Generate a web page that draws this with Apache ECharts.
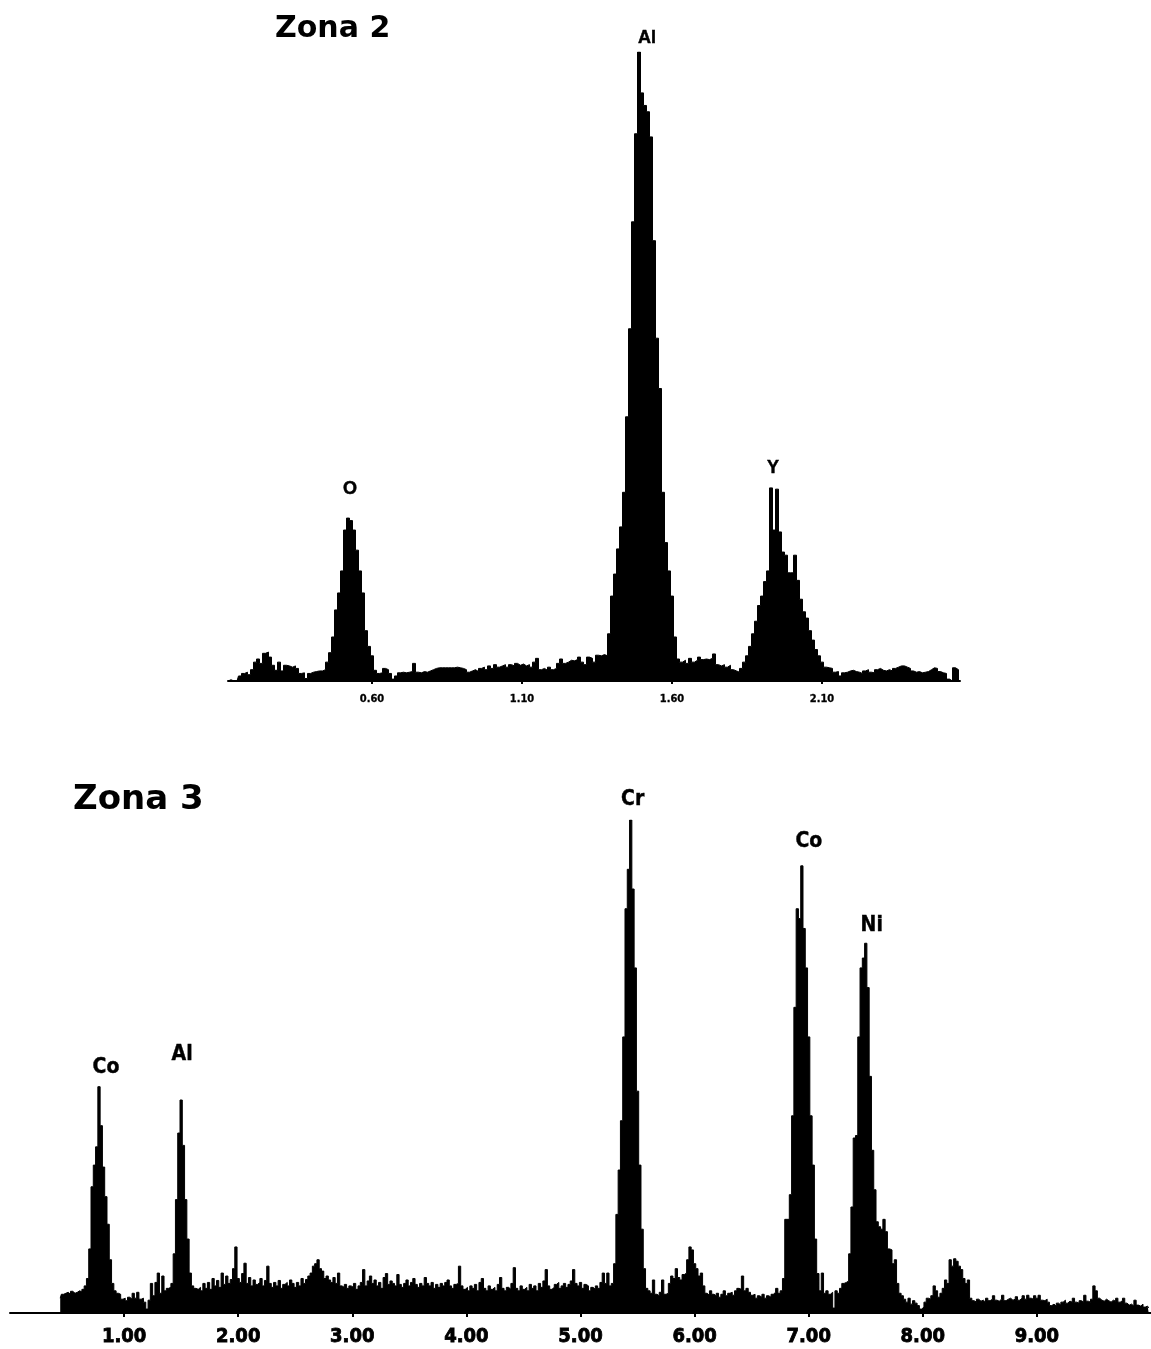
<!DOCTYPE html>
<html>
<head>
<meta charset="utf-8">
<title>Espectros EDS - Zona 2 y Zona 3</title>
<script src="https://cdn.jsdelivr.net/npm/echarts@6/dist/echarts.min.js"></script>
<style>
  html, body { margin: 0; padding: 0; background: #ffffff; }
  #chart { width: 1151px; height: 1349px; }
</style>
</head>
<body>
<div id="chart"></div>
<script>
// ---------- Zona 2 spectrum (channels of 0.01 keV starting at 0.12 keV) ----------
const zona2Start = 0.12;
const zona2Channel = 0.01;
const zona2Counts = [
  0, 2, 0, 0, 8, 12, 14, 10, 18, 30, 35, 28, 44, 46, 38, 25, 17, 30, 16, 25,
  24, 22, 24, 20, 12, 13, 4, 12, 14, 15, 16, 16, 18, 30, 45, 70, 113, 140, 175, 240,
  259, 255, 240, 208, 175, 140, 80, 55, 40, 17, 12, 13, 20, 18, 12, 3, 8, 13, 14, 13,
  14, 15, 28, 14, 13, 15, 14, 16, 18, 20, 21, 21, 21, 21, 21, 21, 22, 21, 20, 18,
  14, 16, 18, 15, 20, 22, 18, 24, 20, 26, 22, 24, 26, 22, 26, 24, 28, 25, 27, 24,
  26, 22, 30, 36, 18, 20, 17, 22, 18, 20, 28, 35, 28, 30, 33, 32, 34, 38, 30, 26,
  38, 36, 30, 41, 40, 42, 40, 75, 135, 170, 210, 245, 300, 420, 560, 730, 870, 1000, 935, 915,
  905, 865, 700, 545, 465, 300, 220, 175, 135, 70, 35, 30, 33, 28, 36, 30, 33, 38, 34, 35,
  34, 36, 43, 26, 24, 26, 22, 25, 18, 16, 14, 20, 30, 40, 55, 75, 95, 120, 135, 158,
  175, 307, 240, 305, 237, 205, 200, 172, 172, 200, 160, 130, 110, 100, 80, 65, 50, 40, 30, 22,
  21, 20, 14, 15, 8, 13, 14, 16, 17, 15, 14, 12, 16, 18, 14, 13, 18, 20, 17, 16,
  18, 16, 20, 22, 24, 24, 22, 20, 16, 14, 15, 13, 14, 15, 18, 21, 20, 15, 13, 12,
  3, 0, 21, 18, 0
];
const zona2Ticks = [0.60, 1.10, 1.60, 2.10];
const zona2Peaks = ['O', 'Al', 'Y'];
const zona2PeakEnergy = [0.52, 1.49, 1.93];
const zona2PeakCounts = [259, 1000, 307];

// ---------- Zona 3 spectrum (channels of 0.02 keV starting at 0.44 keV) ----------
const zona3Start = 0.44;
const zona3Channel = 0.02;
const zona3Counts = [
  30, 38, 40, 42, 38, 44, 40, 42, 45, 43, 48, 55, 70, 130, 256, 300, 337, 459, 380, 296, 236, 180, 108, 60, 45,
  40, 38, 28, 30, 25, 32, 28, 40, 30, 42, 28, 30, 22, 8, 26, 60, 35, 62, 81, 40, 75, 45, 50, 52, 60,
  120, 230, 365, 432, 340, 230, 150, 81, 55, 50, 48, 52, 45, 60, 50, 62, 48, 70, 55, 66, 52, 81, 58, 75, 60,
  68, 90, 134, 70, 62, 80, 101, 60, 72, 55, 67, 58, 62, 70, 55, 66, 95, 60, 52, 62, 55, 66, 50, 58, 62,
  55, 67, 60, 52, 62, 55, 70, 60, 68, 75, 81, 95, 100, 108, 90, 85, 70, 75, 67, 62, 72, 60, 81, 55, 52,
  58, 50, 55, 52, 60, 48, 55, 62, 88, 55, 65, 75, 60, 67, 55, 62, 50, 72, 80, 58, 65, 60, 55, 78, 58,
  52, 60, 67, 55, 62, 70, 58, 52, 60, 55, 72, 60, 55, 62, 50, 58, 52, 60, 55, 62, 67, 55, 50, 58, 60,
  95, 55, 48, 52, 45, 55, 50, 58, 45, 62, 70, 50, 45, 55, 48, 52, 45, 58, 72, 50, 45, 52, 48, 60, 92,
  50, 45, 55, 48, 52, 45, 58, 50, 55, 45, 60, 52, 65, 88, 55, 48, 52, 58, 62, 50, 55, 60, 52, 58, 65,
  88, 60, 55, 62, 50, 58, 55, 45, 52, 48, 55, 50, 62, 81, 60, 81, 55, 60, 100, 200, 290, 390, 560, 820, 900,
  1000, 860, 700, 450, 300, 170, 90, 50, 45, 40, 67, 38, 35, 42, 67, 38, 40, 60, 75, 70, 90, 72, 67, 78, 81,
  108, 134, 128, 100, 90, 75, 81, 55, 40, 36, 45, 38, 35, 40, 32, 38, 45, 35, 40, 42, 36, 45, 50, 48, 75,
  45, 50, 42, 36, 38, 30, 35, 32, 38, 30, 35, 32, 38, 42, 50, 40, 45, 70, 190, 190, 240, 400, 620, 820, 800,
  907, 780, 700, 560, 400, 300, 150, 80, 45, 81, 40, 45, 38, 42, 10, 45, 40, 50, 60, 62, 65, 120, 215, 355, 360,
  560, 700, 720, 750, 660, 480, 330, 250, 185, 175, 170, 190, 165, 130, 128, 100, 108, 60, 40, 35, 28, 22, 30, 18, 25,
  20, 15, 8, 12, 22, 30, 28, 35, 55, 45, 32, 40, 50, 67, 60, 108, 95, 110, 105, 95, 88, 70, 60, 67, 30,
  25, 22, 28, 24, 26, 22, 30, 25, 28, 35, 26, 24, 28, 36, 25, 28, 30, 26, 28, 33, 26, 30, 35, 28, 36,
  30, 28, 35, 30, 36, 26, 25, 28, 22, 15, 18, 14, 20, 16, 22, 26, 20, 24, 22, 30, 22, 20, 25, 22, 36,
  24, 22, 28, 55, 45, 30, 26, 24, 28, 25, 22, 26, 24, 30, 22, 25, 30, 20, 16, 18, 14, 26, 16, 14, 18,
  12, 14, 10
];
const zona3Ticks = [1, 2, 3, 4, 5, 6, 7, 8, 9];
const zona3Peaks = ['Co', 'Al', 'Cr', 'Co', 'Ni'];
const zona3PeakEnergy = [0.78, 1.50, 5.44, 6.94, 7.50];
const zona3PeakCounts = [459, 432, 1000, 907, 750];

// ---------- layout / styling (kept apart from the data) ----------
const zona2LabelOffsets = [[2, -29], [8, -14], [2, -20]];
const zona3LabelOffsets = [[7, -19], [1, -45], [2, -20], [7, -24], [6, -18]];
const condensed = "'DejaVu Sans Condensed', 'Liberation Sans Narrow', 'Liberation Sans', sans-serif";

function toPairs(start, width, counts) {
  return counts.map((c, i) => [+(start + i * width).toFixed(3), c]);
}

function peakLabels(names, energies, counts, offsets) {
  return names.map((n, i) => ({
    name: n,
    value: [energies[i], counts[i]],
    label: { offset: offsets[i] }
  }));
}

const chart = echarts.init(document.getElementById('chart'), null, { renderer: 'canvas' });

const spectrumStyle = {
  type: 'line',
  step: 'middle',
  symbol: 'none',
  silent: true,
  animation: false,
  lineStyle: { color: '#000', width: 1 },
  areaStyle: { color: '#000', opacity: 1 }
};

const labelSeries = (xIdx, data, fontSize, fontFamily, stroke) => ({
  type: 'scatter',
  xAxisIndex: xIdx,
  yAxisIndex: xIdx,
  symbolSize: 1,
  silent: true,
  animation: false,
  itemStyle: { color: 'rgba(0,0,0,0)' },
  label: {
    show: true,
    position: 'inside',
    formatter: p => p.name,
    color: '#000',
    opacity: 1,
    textBorderColor: '#000',
    textBorderWidth: stroke,
    fontWeight: 'bold',
    fontSize: fontSize,
    fontFamily: fontFamily
  },
  data: data
});

chart.setOption({
  backgroundColor: '#ffffff',
  animation: false,
  title: [
    {
      text: 'Zona 2', left: 270, top: 9,
      textStyle: { fontFamily: "'DejaVu Sans', sans-serif", fontWeight: 'bold', fontSize: 30, color: '#000' }
    },
    {
      text: 'Zona 3', left: 68, top: 778,
      textStyle: { fontFamily: "'DejaVu Sans', sans-serif", fontWeight: 'bold', fontSize: 34, color: '#000' }
    }
  ],
  grid: [
    { left: 228, width: 732, top: 52, height: 629 },
    { left: 10, width: 1141, top: 820, height: 493 }
  ],
  xAxis: [
    {
      gridIndex: 0, type: 'value', min: 0.12, max: 2.56,
      splitLine: { show: false },
      axisLine: { show: true, lineStyle: { color: '#000', width: 2 } },
      axisTick: { show: true, customValues: zona2Ticks, length: 3, lineStyle: { color: '#000', width: 2 } },
      axisLabel: {
        customValues: zona2Ticks, margin: 13,
        formatter: v => v.toFixed(2),
        color: '#000', fontSize: 11, fontWeight: 'bold', fontFamily: condensed,
        textBorderColor: '#000', textBorderWidth: 0.3
      }
    },
    {
      gridIndex: 1, type: 'value', min: 0, max: 10, interval: 1,
      splitLine: { show: false },
      axisLine: { show: true, lineStyle: { color: '#000', width: 2 } },
      axisTick: { show: true, customValues: zona3Ticks, length: 4, lineStyle: { color: '#000', width: 2 } },
      axisLabel: {
        customValues: zona3Ticks, margin: 14,
        formatter: v => v.toFixed(2),
        color: '#000', fontSize: 20, fontWeight: 'bold', fontFamily: condensed,
        textBorderColor: '#000', textBorderWidth: 0.8
      }
    }
  ],
  yAxis: [
    { gridIndex: 0, type: 'value', min: 0, max: 1000, show: false },
    { gridIndex: 1, type: 'value', min: 0, max: 1000, show: false }
  ],
  series: [
    Object.assign({}, spectrumStyle, {
      name: 'Zona 2', xAxisIndex: 0, yAxisIndex: 0,
      data: toPairs(zona2Start, zona2Channel, zona2Counts)
    }),
    Object.assign({}, spectrumStyle, {
      name: 'Zona 3', xAxisIndex: 1, yAxisIndex: 1,
      data: toPairs(zona3Start, zona3Channel, zona3Counts)
    }),
    labelSeries(0, peakLabels(zona2Peaks, zona2PeakEnergy, zona2PeakCounts, zona2LabelOffsets), 18, "'Liberation Sans', Arial, sans-serif", 0.5),
    labelSeries(1, peakLabels(zona3Peaks, zona3PeakEnergy, zona3PeakCounts, zona3LabelOffsets), 21, condensed, 0.4)
  ]
});
</script>
</body>
</html>
